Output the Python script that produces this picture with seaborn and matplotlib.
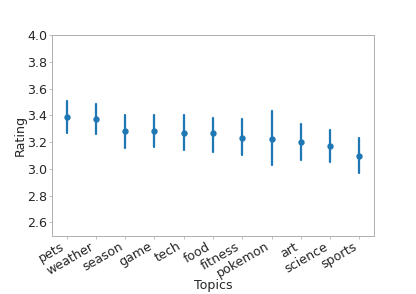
import pandas as pd
import matplotlib
matplotlib.use("Agg")
import matplotlib.pyplot as plt
import seaborn as sns

# dados
topicos = ["pets", "weather", "season", "game", "tech", "food",
           "fitness", "pokemon", "art", "science", "sports"]
media = [3.385, 3.370, 3.283, 3.283, 3.269, 3.266, 3.234, 3.226, 3.199, 3.171, 3.099]
inferior = [3.266, 3.261, 3.157, 3.166, 3.139, 3.129, 3.106, 3.031, 3.067, 3.054, 2.967]
superior = [3.508, 3.488, 3.401, 3.406, 3.401, 3.383, 3.371, 3.433, 3.336, 3.294, 3.229]

# montando um df longo: mediana = media, intervalo 100% = (inferior, superior)
linhas = []
for t, m, lo, hi in zip(topicos, media, inferior, superior):
    for v in (lo, m, hi):
        linhas.append({"Topics": t, "Rating": v})
dados = pd.DataFrame(linhas)

sns.set_style("white")
plt.rcParams["font.family"] = ["DejaVu Sans"]

fig, ax = plt.subplots(figsize=(6.4, 294 / 65), dpi=65)
fig.subplots_adjust(left=0.125, right=0.899, top=0.88, bottom=0.198)

sns.pointplot(x="Topics", y="Rating", data=dados, order=topicos,
              estimator="median", errorbar=("pi", 100),
              linestyle="none", color="#1f77b4", markersize=5,
              err_kws={"linewidth": 2.5}, ax=ax)

ax.set_ylim(2.5, 4.0)
ax.set_yticks([2.6, 2.8, 3.0, 3.2, 3.4, 3.6, 3.8, 4.0])
ax.set_xlim(-0.5, len(topicos) - 0.5)
ax.set_xlabel("Topics", fontsize=14, color="#262626")
ax.set_ylabel("Rating", fontsize=14, color="#262626", labelpad=1)
ax.xaxis.set_label_coords(0.5, -0.215)
ax.tick_params(axis="both", labelsize=14, labelcolor="#262626",
               bottom=True, left=True, length=3, color="#aaaaaa")
ax.tick_params(axis="x", pad=1.5)
ax.tick_params(axis="y", pad=2)
plt.setp(ax.get_xticklabels(), rotation=30, ha="right")
for s in ax.spines.values():
    s.set_color("#aaaaaa")
    s.set_linewidth(1)

fig.savefig("out.png", dpi=65)
